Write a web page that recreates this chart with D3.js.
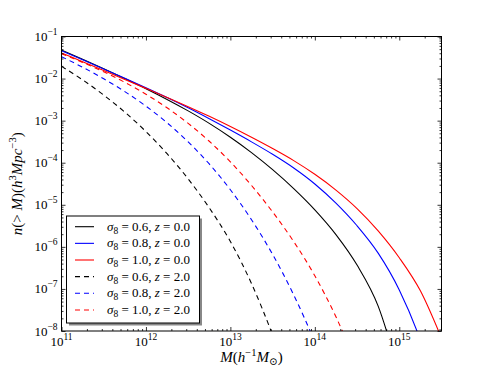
<!DOCTYPE html>
<html>
<head>
<meta charset="utf-8">
<script src="https://cdn.jsdelivr.net/npm/d3@7"></script>
<style>
  body { margin: 0; background: #fff; }
  text { font-family: "Liberation Serif", "DejaVu Serif", serif; fill: #000; }
</style>
</head>
<body>
<div class="canvas"></div>
<script>
// log10 of halo mass M (h^-1 Msun), shared grid for all curves
const logMass = [11, 11.25, 11.5, 11.75, 12, 12.25, 12.5, 12.75, 13, 13.25, 13.5, 13.75, 14, 14.25, 14.5, 14.75, 15, 15.25, 15.5];

// log10 n(>M), one array per curve
const s06_z0 = [-1.32, -1.54, -1.765, -2.00, -2.24, -2.495, -2.768, -3.065, -3.395, -3.76, -4.165, -4.615, -5.12, -5.708, -6.433, -7.408, -9.03];
const s08_z0 = [-1.34, -1.555, -1.773, -1.993, -2.218, -2.45, -2.695, -2.955, -3.225, -3.505, -3.80, -4.125, -4.505, -4.96, -5.498, -6.148, -7.023, -8.223, -9.9];
const s10_z0 = [-1.39, -1.60, -1.81, -2.02, -2.233, -2.448, -2.668, -2.898, -3.14, -3.395, -3.663, -3.95, -4.275, -4.65, -5.09, -5.62, -6.258, -7.045, -8.17];
const s06_z2 = [-1.71, -2.03, -2.393, -2.798, -3.26, -3.785, -4.385, -5.073, -5.873, -6.873, -8.098, -9.55];
const s08_z2 = [-1.48, -1.73, -2.005, -2.31, -2.655, -3.05, -3.505, -4.03, -4.643, -5.355, -6.18, -7.143, -8.268, -9.59];
const s10_z2 = [-1.41, -1.615, -1.84, -2.09, -2.373, -2.695, -3.065, -3.49, -3.98, -4.54, -5.17, -5.875, -6.688, -7.663, -8.838];

const sigma8 = ['0.6', '0.8', '1.0', '0.6', '0.8', '1.0'];
const redshift = ['0.0', '0.0', '0.0', '2.0', '2.0', '2.0'];
const colors = ['#000000', '#0000ff', '#ff0000', '#000000', '#0000ff', '#ff0000'];
const dashed = [false, false, false, true, true, true];
const seriesValues = [s06_z0, s08_z0, s10_z0, s06_z2, s08_z2, s10_z2];

// tick labels (exponents of 10)
const xTickExp = [11, 12, 13, 14, 15];
const yTickExp = [-8, -7, -6, -5, -4, -3, -2, -1];

const dims = { width: 491, height: 368 };
const plot = { left: 61.5, right: 441.5, top: 36.5, bottom: 331 };

const svg = d3.select('.canvas').append('svg')
  .attr('width', dims.width)
  .attr('height', dims.height);

const x = d3.scaleLog().domain([1e11, Math.pow(10, 15.5)]).range([plot.left, plot.right]);
const y = d3.scaleLog().domain([1e-8, 1e-1]).range([plot.bottom, plot.top]);

svg.append('clipPath').attr('id', 'plotClip')
  .append('rect')
  .attr('x', plot.left).attr('y', plot.top)
  .attr('width', plot.right - plot.left).attr('height', plot.bottom - plot.top);

// curves
const line = d3.line()
  .x(d => x(d[0]))
  .y(d => y(d[1]))
  .curve(d3.curveMonotoneX);

const curves = svg.append('g').attr('clip-path', 'url(#plotClip)');
seriesValues.forEach((vals, i) => {
  const pts = vals.map((v, j) => [Math.pow(10, logMass[j]), Math.pow(10, v)]);
  curves.append('path')
    .attr('d', line(pts))
    .attr('fill', 'none')
    .attr('stroke', colors[i])
    .attr('stroke-width', 1.1)
    .attr('stroke-dasharray', dashed[i] ? '5,4' : null);
});

// ticks, classic style: inside on all four sides
const majorX = xTickExp.map(e => Math.pow(10, e));
const majorY = yTickExp.map(e => Math.pow(10, e));
const minorX = [], minorY = [];
xTickExp.forEach(e => { for (let k = 2; k <= 9; k++) { const v = k * Math.pow(10, e); if (v <= x.domain()[1]) minorX.push(v); } });
yTickExp.slice(0, -1).forEach(e => { for (let k = 2; k <= 9; k++) minorY.push(k * Math.pow(10, e)); });

const addAxis = (axisFn, scale, tr, values, size) => {
  const g = svg.append('g')
    .attr('transform', tr)
    .call(axisFn(scale).tickValues(values).tickSize(-size).tickSizeOuter(0).tickFormat(''));
  g.select('.domain').remove();
  g.selectAll('line').attr('stroke', '#000').attr('stroke-width', 0.8);
};
[[majorX, 4], [minorX, 2]].forEach(([vals, s]) => {
  addAxis(d3.axisBottom, x, `translate(0,${plot.bottom})`, vals, s);
  addAxis(d3.axisTop, x, `translate(0,${plot.top})`, vals, s);
});
[[majorY, 4], [minorY, 2]].forEach(([vals, s]) => {
  addAxis(d3.axisLeft, y, `translate(${plot.left},0)`, vals, s);
  addAxis(d3.axisRight, y, `translate(${plot.right},0)`, vals, s);
});

// frame
svg.append('rect')
  .attr('x', plot.left).attr('y', plot.top)
  .attr('width', plot.right - plot.left).attr('height', plot.bottom - plot.top)
  .attr('fill', 'none').attr('stroke', '#000').attr('stroke-width', 1);

// tick labels 10^e
xTickExp.forEach(e => {
  const t = svg.append('text')
    .attr('x', x(Math.pow(10, e)))
    .attr('y', 345.5)
    .attr('text-anchor', 'middle')
    .attr('font-size', 13);
  t.append('tspan').text('10');
  t.append('tspan').attr('dy', -6).attr('font-size', 9.5).text(e);
});
yTickExp.forEach(e => {
  const t = svg.append('text')
    .attr('x', 57.5)
    .attr('y', y(Math.pow(10, e)) + 4.5)
    .attr('text-anchor', 'end')
    .attr('font-size', 13);
  t.append('tspan').text('10');
  t.append('tspan').attr('dy', -6).attr('font-size', 9.5).text('\u2212' + Math.abs(e));
});

// axis labels
const xl = svg.append('text')
  .attr('x', (plot.left + plot.right) / 2)
  .attr('y', 362)
  .attr('text-anchor', 'middle')
  .attr('font-size', 15);
xl.append('tspan').attr('font-style', 'italic').text('M');
xl.append('tspan').text('(');
xl.append('tspan').attr('font-style', 'italic').text('h');
xl.append('tspan').attr('dy', -6).attr('font-size', 10.5).text('\u22121');
xl.append('tspan').attr('dy', 6).attr('font-style', 'italic').text('M');
xl.append('tspan').attr('dy', 3).attr('font-size', 10.5).text('\u2299');
xl.append('tspan').attr('dy', -3).text(')');

const yl = svg.append('text')
  .attr('transform', `translate(22,${(plot.top + plot.bottom) / 2}) rotate(-90)`)
  .attr('text-anchor', 'middle')
  .attr('font-size', 15);
yl.append('tspan').attr('font-style', 'italic').text('n');
yl.append('tspan').text('(> ');
yl.append('tspan').attr('font-style', 'italic').text('M');
yl.append('tspan').text(')(');
yl.append('tspan').attr('font-style', 'italic').text('h');
yl.append('tspan').attr('dy', -6).attr('font-size', 10.5).text('3');
yl.append('tspan').attr('dy', 6).attr('font-style', 'italic').text('Mpc');
yl.append('tspan').attr('dy', -6).attr('font-size', 10.5).text('\u22123');
yl.append('tspan').attr('dy', 6).text(')');

// legend with shadow
const leg = { x: 66.5, y: 216, w: 133, h: 107 };
svg.append('rect')
  .attr('x', leg.x + 2.5).attr('y', leg.y + 2.5)
  .attr('width', leg.w).attr('height', leg.h)
  .attr('fill', '#888');
svg.append('rect')
  .attr('x', leg.x).attr('y', leg.y)
  .attr('width', leg.w).attr('height', leg.h)
  .attr('fill', '#fff').attr('stroke', '#000').attr('stroke-width', 1);

seriesValues.forEach((vals, i) => {
  const cy = 226.7 + i * 16.65;
  svg.append('line')
    .attr('x1', 75).attr('x2', 94)
    .attr('y1', cy).attr('y2', cy)
    .attr('stroke', colors[i])
    .attr('stroke-width', 1.1)
    .attr('stroke-dasharray', dashed[i] ? '5,4' : null);
  const t = svg.append('text')
    .attr('x', 107)
    .attr('y', cy + 4)
    .attr('font-size', 13);
  t.append('tspan').attr('font-style', 'italic').text('\u03c3');
  t.append('tspan').attr('dy', 3).attr('font-size', 9.5).text('8');
  t.append('tspan').attr('dy', -3).text(' = ' + sigma8[i] + ', ');
  t.append('tspan').attr('font-style', 'italic').text('z');
  t.append('tspan').text(' = ' + redshift[i]);
});
</script>
</body>
</html>
